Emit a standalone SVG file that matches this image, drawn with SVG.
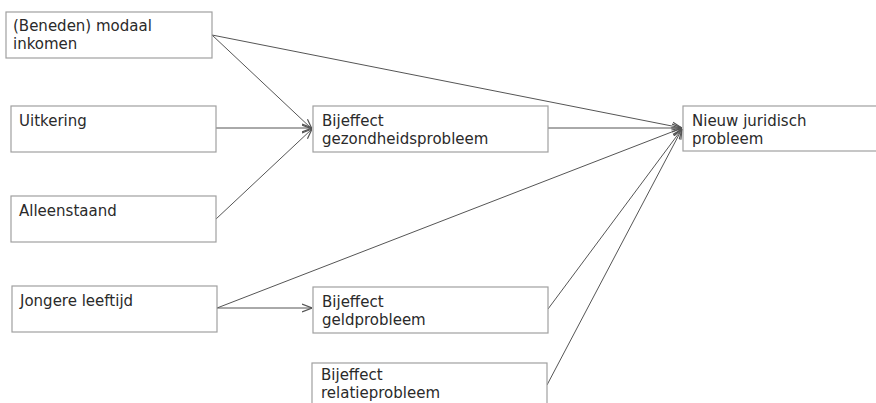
<svg xmlns="http://www.w3.org/2000/svg" width="876" height="403" viewBox="0 0 876 403">
<style>
.box{fill:#fff;stroke:#a0a0a0;stroke-width:1.2}
.t{font-family:"DejaVu Sans",Verdana,sans-serif;font-size:15px;fill:#2a2a2a}
.c{stroke:#555;stroke-width:1;fill:none;marker-end:url(#ah)}
</style>
<defs>
<marker id="ah" viewBox="0 0 10 10" refX="10" refY="5" markerWidth="10" markerHeight="10" markerUnits="userSpaceOnUse" orient="auto">
<path d="M0,1 L10,5 L0,9" fill="none" stroke="#555" stroke-width="1.2"/>
</marker>
</defs>
<rect width="876" height="403" fill="#fff"/>
<g id="connectors">
<line class="c" x1="212" y1="35" x2="312" y2="129"/>
<line class="c" x1="212" y1="35" x2="682" y2="128"/>
<line class="c" x1="216" y1="128" x2="312" y2="128"/>
<line class="c" x1="216" y1="219" x2="312" y2="129"/>
<line class="c" x1="548" y1="128" x2="682" y2="128"/>
<line class="c" x1="217" y1="308" x2="682" y2="128"/>
<line class="c" x1="217" y1="308" x2="312" y2="308"/>
<line class="c" x1="548" y1="309" x2="682" y2="129"/>
<line class="c" x1="547" y1="385" x2="682" y2="129"/>
</g>
<g id="n1"><rect class="box" x="6" y="12" width="206" height="46"/><text class="t" x="13" y="31">(Beneden) modaal</text><text class="t" x="13" y="49">inkomen</text></g>
<g id="n2"><rect class="box" x="11" y="106" width="205" height="46"/><text class="t" x="19" y="126">Uitkering</text></g>
<g id="n3"><rect class="box" x="11" y="196" width="205" height="46"/><text class="t" x="19" y="216">Alleenstaand</text></g>
<g id="n4"><rect class="box" x="12" y="286" width="205" height="46"/><text class="t" x="20" y="306">Jongere leeftijd</text></g>
<g id="n5"><rect class="box" x="313" y="106" width="235" height="46"/><text class="t" x="322" y="126">Bijeffect</text><text class="t" x="322" y="144">gezondheidsprobleem</text></g>
<g id="n6"><rect class="box" x="313" y="287" width="235" height="46"/><text class="t" x="322" y="307">Bijeffect</text><text class="t" x="322" y="325">geldprobleem</text></g>
<g id="n7"><rect class="box" x="312" y="363" width="235" height="50"/><text class="t" x="321" y="380">Bijeffect</text><text class="t" x="321" y="398">relatieprobleem</text></g>
<g id="n8"><rect class="box" x="683" y="106" width="200" height="45"/><text class="t" x="692" y="126">Nieuw juridisch</text><text class="t" x="692" y="144">probleem</text></g>
</svg>
